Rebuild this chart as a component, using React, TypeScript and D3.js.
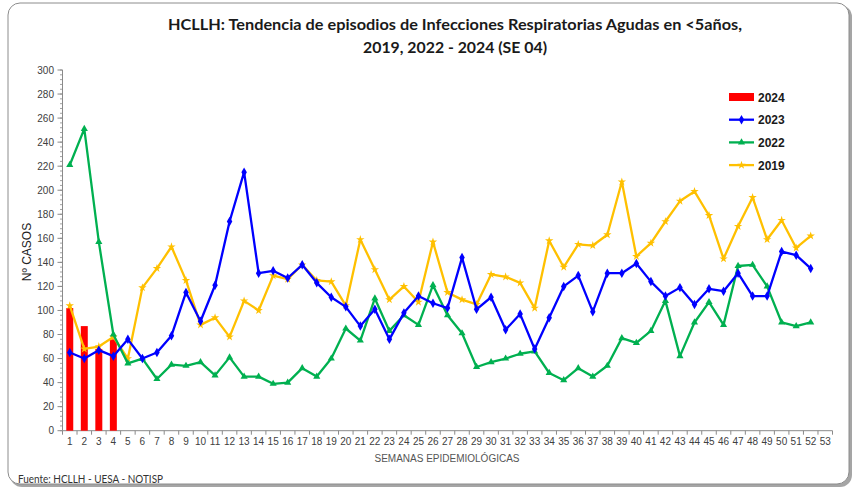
import React, { useEffect, useRef } from 'react';
import * as d3 from 'd3';

const weeks = d3.range(1, 54);

const cases2024 = [102, 87, 68, 76];
const cases2023 = [
  65, 60, 67, 62, 76, 60, 65, 79, 115, 91, 121, 174, 215, 131, 133, 127, 138, 123,
  111, 103, 87, 101, 76, 98, 112, 106, 102, 144, 101, 111, 84, 97, 68, 94, 120, 129,
  99, 131, 131, 139, 124, 112, 119, 105, 118, 116, 131, 112, 112, 149, 146, 135,
];
const cases2022 = [
  221, 251, 157, 80, 56, 60, 43, 55, 54, 57, 46, 61, 45, 45, 39, 40, 52, 45,
  60, 85, 75, 110, 83, 96, 88, 121, 96, 81, 53, 57, 60, 64, 66, 48, 42, 52,
  45, 54, 77, 73, 83, 108, 62, 90, 107, 88, 137, 138, 120, 90, 87, 90,
];
const cases2019 = [
  104, 68, 70, 78, 60, 119, 135, 153, 125, 88, 94, 78, 108, 100, 129, 126, 138, 125,
  124, 104, 159, 134, 109, 120, 107, 157, 115, 109, 105, 130, 128, 123, 102, 158, 136, 155,
  154, 163, 207, 145, 156, 174, 191, 199, 179, 143, 170, 194, 159, 175, 152, 162,
];
const yTicks = d3.range(0, 301, 20);

const lineSeries = [
  { name: '2023', values: cases2023, color: '#0000FF', symbol: d3.symbolDiamond, size: 26 },
  { name: '2022', values: cases2022, color: '#00B050', symbol: d3.symbolTriangle, size: 22 },
  { name: '2019', values: cases2019, color: '#FFC000', symbol: d3.symbolStar, size: 22 },
];

const W = 856;
const H = 490;

const App = () => {
  const svgRef = useRef<SVGSVGElement>(null);

  useEffect(() => {
    const svg = d3.select(svgRef.current);
    svg.selectAll('*').remove();

    // frame with shadow
    svg.append('rect')
      .attr('x', 10).attr('y', 5).attr('width', 842).attr('height', 482)
      .attr('rx', 12).attr('fill', '#7f7f7f').attr('opacity', 0.7);
    svg.append('rect')
      .attr('x', 8).attr('y', 3).attr('width', 841).attr('height', 481)
      .attr('rx', 12).attr('fill', '#fff').attr('stroke', '#8c8c8c').attr('stroke-width', 1);

    const x = d3.scaleBand<number>().domain(weeks).range([62.5, 832.5]);
    const y = d3.scaleLinear().domain([0, 300]).range([430.7, 70]);
    const cx = (w: number) => (x(w) as number) + x.bandwidth() / 2;

    // title
    const title = svg.append('text')
      .attr('text-anchor', 'middle')
      .style('font-family', 'Lato, sans-serif')
      .style('font-weight', 'bold')
      .style('font-size', '15px')
      .attr('fill', '#1a1a1a');
    title.append('tspan').attr('x', 455).attr('y', 30)
      .attr('textLength', 574).attr('lengthAdjust', 'spacingAndGlyphs')
      .text('HCLLH:  Tendencia de episodios de Infecciones Respiratorias Agudas en <5años,');
    title.append('tspan').attr('x', 455).attr('y', 53)
      .attr('textLength', 184).attr('lengthAdjust', 'spacingAndGlyphs')
      .text('2019, 2022 - 2024 (SE 04)');

    const axisColor = '#8a8a8a';
    const g = svg.append('g');

    // y axis
    g.append('line')
      .attr('x1', 62.5).attr('x2', 62.5).attr('y1', y(300)).attr('y2', y(0))
      .attr('stroke', axisColor);
    d3.range(0, 301, 4).forEach(v => {
      g.append('line')
        .attr('x1', 60).attr('x2', 62.5).attr('y1', y(v)).attr('y2', y(v))
        .attr('stroke', axisColor).attr('stroke-width', 0.8);
    });
    yTicks.forEach(v => {
      g.append('line')
        .attr('x1', 57.5).attr('x2', 62.5).attr('y1', y(v)).attr('y2', y(v))
        .attr('stroke', axisColor);
      g.append('text')
        .attr('x', 54).attr('y', y(v) + 3.5)
        .attr('text-anchor', 'end')
        .style('font-family', '"Liberation Sans", Arial, sans-serif')
        .style('font-size', '10px')
        .attr('fill', '#404040')
        .text(v);
    });

    // x axis
    g.append('line')
      .attr('x1', 62.5).attr('x2', 832.5).attr('y1', y(0)).attr('y2', y(0))
      .attr('stroke', axisColor);
    weeks.forEach(w => {
      const bx = x(w) as number;
      g.append('line')
        .attr('x1', bx).attr('x2', bx).attr('y1', y(0)).attr('y2', y(0) + 4)
        .attr('stroke', axisColor);
      g.append('text')
        .attr('x', cx(w)).attr('y', 445)
        .attr('text-anchor', 'middle')
        .style('font-family', '"Liberation Sans", Arial, sans-serif')
        .style('font-size', '10px')
        .attr('fill', '#404040')
        .text(w);
    });
    g.append('line')
      .attr('x1', 832.5).attr('x2', 832.5).attr('y1', y(0)).attr('y2', y(0) + 4)
      .attr('stroke', axisColor);

    // axis labels
    svg.append('text')
      .attr('x', 447).attr('y', 462)
      .attr('text-anchor', 'middle')
      .style('font-family', '"Liberation Sans", Arial, sans-serif')
      .style('font-size', '10px')
      .attr('fill', '#555')
      .text('SEMANAS  EPIDEMIOLÓGICAS');
    svg.append('text')
      .attr('transform', 'translate(31,252) rotate(-90)')
      .attr('text-anchor', 'middle')
      .style('font-family', '"Liberation Sans", Arial, sans-serif')
      .style('font-size', '12px')
      .attr('fill', '#222')
      .text('Nº CASOS');

    // bars 2024
    const bw = x.bandwidth() * 0.48;
    g.selectAll('.bar')
      .data(cases2024)
      .enter().append('rect')
      .attr('x', (d, i) => cx(weeks[i]) - bw / 2)
      .attr('width', bw)
      .attr('y', d => y(d))
      .attr('height', d => y(0) - y(d))
      .attr('fill', '#FF0000');

    // lines
    const line = d3.line<number>()
      .x((d, i) => cx(weeks[i]))
      .y(d => y(d));
    lineSeries.slice().reverse().forEach(s => {
      g.append('path')
        .attr('d', line(s.values))
        .attr('fill', 'none')
        .attr('stroke', s.color)
        .attr('stroke-width', 2.3)
        .attr('stroke-linejoin', 'round');
      g.selectAll(null)
        .data(s.values)
        .enter().append('path')
        .attr('transform', (d, i) => `translate(${cx(weeks[i])},${y(d)})`)
        .attr('d', d3.symbol().type(s.symbol).size(s.size)())
        .attr('fill', s.color);
    });

    // legend
    const lg = svg.append('g');
    const legendItems = [
      { name: '2024', color: '#FF0000', bar: true, symbol: null as any, size: 0 },
      ...lineSeries.map(s => ({ name: s.name, color: s.color, bar: false, symbol: s.symbol, size: s.size })),
    ];
    legendItems.forEach((item, i) => {
      const ly = 97 + i * 22.7;
      if (item.bar) {
        lg.append('rect')
          .attr('x', 729).attr('y', ly - 4).attr('width', 25).attr('height', 8)
          .attr('fill', item.color);
      } else {
        lg.append('line')
          .attr('x1', 729).attr('x2', 754).attr('y1', ly).attr('y2', ly)
          .attr('stroke', item.color).attr('stroke-width', 2.3);
        lg.append('path')
          .attr('transform', `translate(741.5,${ly})`)
          .attr('d', d3.symbol().type(item.symbol).size(item.size)())
          .attr('fill', item.color);
      }
      lg.append('text')
        .attr('x', 758).attr('y', ly + 4.5)
        .style('font-family', '"Liberation Sans", Arial, sans-serif')
        .style('font-weight', 'bold')
        .style('font-size', '12px')
        .attr('fill', '#1a1a1a')
        .text(item.name);
    });

    // source
    svg.append('text')
      .attr('x', 18).attr('y', 483)
      .style('font-family', 'Lato, sans-serif')
      .style('font-size', '11px')
      .attr('fill', '#333')
      .attr('textLength', 145).attr('lengthAdjust', 'spacingAndGlyphs')
      .text('Fuente: HCLLH - UESA - NOTISP');
  }, []);

  return (
    <svg
      ref={svgRef}
      width={W}
      height={H}
      style={{ position: 'absolute', left: 0, top: 0, background: '#fff' }}
    />
  );
};

export default App;
